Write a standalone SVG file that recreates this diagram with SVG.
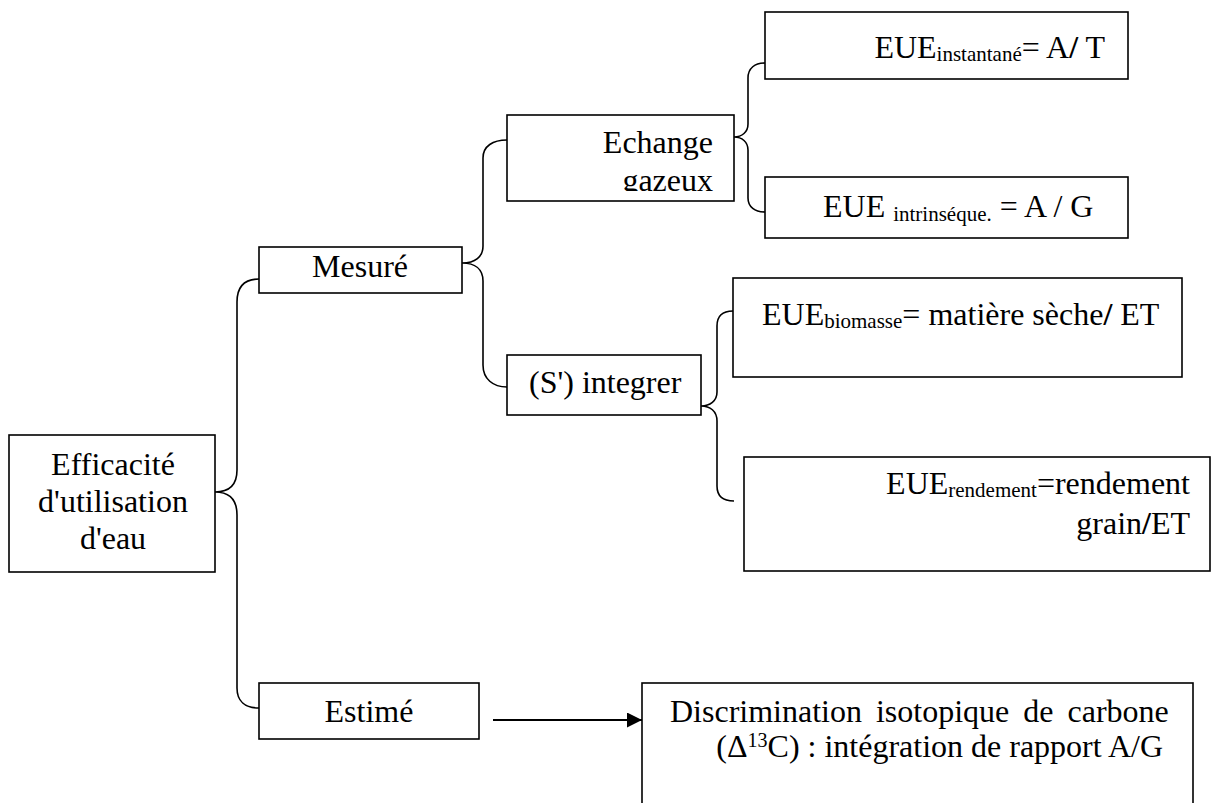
<svg xmlns="http://www.w3.org/2000/svg" width="1211" height="803" viewBox="0 0 1211 803">
<style>
.box{fill:#fff;stroke:#000;stroke-width:1.6}
.t{font-family:'Liberation Serif','DejaVu Serif',serif;font-size:32px;fill:#000}
.sub{font-size:21px}
.con{fill:none;stroke:#000;stroke-width:1.6}
</style>
<defs>
<marker id="arr" viewBox="0 0 15 15" refX="15" refY="7.5" markerWidth="15" markerHeight="15" markerUnits="userSpaceOnUse" orient="auto">
<path d="M0,0 L15,7.5 L0,15 Z" fill="#000"/>
</marker>
<clipPath id="clipEch"><rect x="507" y="115" width="227" height="76"/></clipPath>
</defs>
<rect width="1211" height="803" fill="#fff"/>
<g id="connectors">
<path class="con" d="M259,279 C245,279 237,286 237,302 L237,470 C237,485 229,492 215,492 C229,492 237,499 237,515 L237,688 C237,701 245,708 259,708"/>
<path class="con" d="M507,140 C493,140 483,146 483,158 L483,246 C483,257 475,263 462,263 C475,263 483,269 483,281 L483,365 C483,379 493,387 507,387"/>
<path class="con" d="M765,63 C755,63 748,68 748,78 L748,124 C748,132 742,137 734,137 C742,137 748,142 748,150 L748,198 C748,207 755,212 765,212"/>
<path class="con" d="M733,311 C723,311 717,316 717,326 L717,392 C717,401 710,406 701,406 C710,406 717,411 717,421 L717,486 C717,496 723,501 734,501"/>
<line x1="493" y1="720" x2="642" y2="720" stroke="#000" stroke-width="2" marker-end="url(#arr)"/>
</g>
<g id="n-efficacite">
<rect class="box" x="9" y="435" width="206" height="137"/>
<text class="t" x="113" y="475" text-anchor="middle">Efficacité</text>
<text class="t" x="113" y="512" text-anchor="middle">d'utilisation</text>
<text class="t" x="113" y="549" text-anchor="middle">d'eau</text>
</g>
<g id="n-mesure">
<rect class="box" x="259" y="247" width="203" height="46"/>
<text class="t" x="360" y="277" text-anchor="middle">Mesuré</text>
</g>
<g id="n-echange">
<rect class="box" x="507" y="115" width="227" height="86"/>
<g clip-path="url(#clipEch)">
<text class="t" x="713" y="153" text-anchor="end">Echange</text>
<text class="t" x="713" y="191" text-anchor="end">gazeux</text>
</g>
</g>
<g id="n-instantane">
<rect class="box" x="765" y="12" width="363" height="67"/>
<text class="t" x="1105" y="58" text-anchor="end">EUE<tspan class="sub" dy="3">instantané</tspan><tspan dy="-3">= A</tspan><tspan font-weight="bold">/</tspan> T</text>
</g>
<g id="n-intrinseque">
<rect class="box" x="765" y="177" width="363" height="61"/>
<text class="t" x="823" y="217">EUE <tspan class="sub" dy="4">intrinséque.</tspan><tspan dy="-4"> = A / G</tspan></text>
</g>
<g id="n-integrer">
<rect class="box" x="507" y="355" width="194" height="60"/>
<text class="t" x="529" y="393">(S') integrer</text>
</g>
<g id="n-biomasse">
<rect class="box" x="733" y="278" width="449" height="99"/>
<text class="t" x="762" y="325">EUE<tspan class="sub" dy="3">biomasse</tspan><tspan dy="-3">= matière sèche</tspan><tspan font-weight="bold">/</tspan> ET</text>
</g>
<g id="n-rendement">
<rect class="box" x="744" y="457" width="466" height="114"/>
<text class="t" x="1190" y="494" text-anchor="end">EUE<tspan class="sub" dy="3">rendement</tspan><tspan dy="-3">=rendement</tspan></text>
<text class="t" x="1190" y="534" text-anchor="end">grain<tspan font-weight="bold">/</tspan>ET</text>
</g>
<g id="n-estime">
<rect class="box" x="259" y="683" width="220" height="56"/>
<text class="t" x="369" y="722" text-anchor="middle">Estimé</text>
</g>
<g id="n-discrimination">
<rect class="box" x="642" y="683" width="551" height="140"/>
<text class="t" x="670" y="722" word-spacing="6">Discrimination isotopique de carbone</text>
<text class="t" x="1163" y="757" text-anchor="end">(Δ<tspan font-size="20" dy="-10">13</tspan><tspan dy="10">C) : intégration de rapport A/G</tspan></text>
</g>
</svg>
